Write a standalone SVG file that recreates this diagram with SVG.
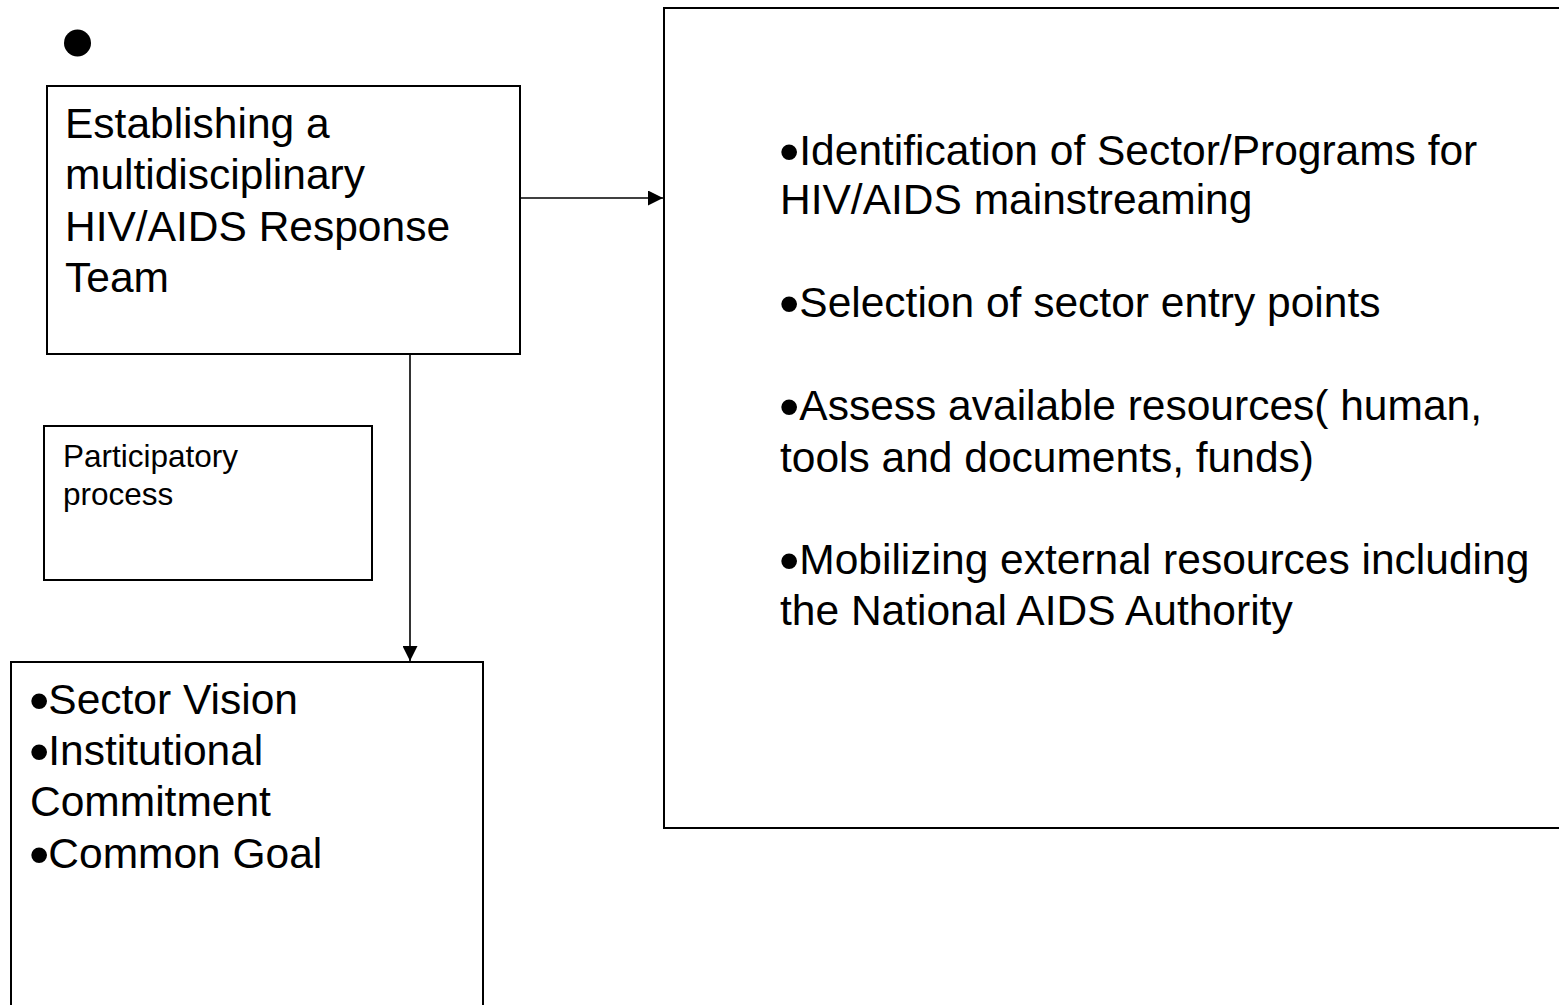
<svg xmlns="http://www.w3.org/2000/svg" width="1559" height="1005" viewBox="0 0 1559 1005">
<defs>
<style>
.box{fill:#fff;stroke:#000;stroke-width:2}
.t{font-family:"Liberation Sans",Arial,sans-serif;fill:#000}
.b{font-size:58px}
.conn{stroke:#000;stroke-width:1.6;fill:none}
</style>
<marker id="ah" viewBox="0 0 10 10" refX="10" refY="5" markerWidth="15" markerHeight="15" markerUnits="userSpaceOnUse" orient="auto">
<path d="M0,0 L10,5 L0,10 Z" fill="#000"/>
</marker>
</defs>
<rect width="1559" height="1005" fill="#fff"/>
<g id="dot"><circle cx="77.5" cy="43" r="13.5" fill="#000"/></g>
<g id="team">
<rect class="box" x="47" y="86" width="473" height="268"/>
<text class="t" font-size="42.5"><tspan x="65" y="138">Establishing a</tspan><tspan x="65" y="189">multidisciplinary</tspan><tspan x="65" y="241">HIV/AIDS Response</tspan><tspan x="65" y="292">Team</tspan></text>
</g>
<g id="participatory">
<rect class="box" x="44" y="426" width="328" height="154"/>
<text class="t" font-size="31.5"><tspan x="63" y="467">Participatory</tspan><tspan x="63" y="505">process</tspan></text>
</g>
<g id="vision">
<rect class="box" x="11" y="662" width="472" height="400"/>
<text class="t" font-size="42.5"><tspan class="b" x="29" y="719.5">•</tspan><tspan dx="-1" y="714">Sector Vision</tspan></text>
<text class="t" font-size="42.5"><tspan class="b" x="29" y="770.5">•</tspan><tspan dx="-1" y="765">Institutional</tspan></text>
<text class="t" font-size="42.5" x="30" y="816">Commitment</text>
<text class="t" font-size="42.5"><tspan class="b" x="29" y="873.5">•</tspan><tspan dx="-1" y="868">Common Goal</tspan></text>
</g>
<g id="actions">
<rect class="box" x="664" y="8" width="1000" height="820"/>
<text class="t" font-size="42.5"><tspan class="b" x="779" y="170.5">•</tspan><tspan dx="0" y="165">Identification of Sector/Programs for</tspan></text>
<text class="t" font-size="42.5" x="780" y="214">HIV/AIDS mainstreaming</text>
<text class="t" font-size="42.5"><tspan class="b" x="779" y="322.5">•</tspan><tspan dx="0" y="317">Selection of sector entry points</tspan></text>
<text class="t" font-size="42.5"><tspan class="b" x="779" y="425.5">•</tspan><tspan dx="0" y="420">Assess available resources( human,</tspan></text>
<text class="t" font-size="42.5" x="780" y="472">tools and documents, funds)</text>
<text class="t" font-size="42.5"><tspan class="b" x="779" y="579.5">•</tspan><tspan dx="0" y="574">Mobilizing external resources including</tspan></text>
<text class="t" font-size="42.5" x="780" y="625">the National AIDS Authority</text>
</g>
<g id="connectors">
<line class="conn" x1="520" y1="198" x2="663" y2="198" marker-end="url(#ah)"/>
<line class="conn" x1="410" y1="354" x2="410" y2="661" marker-end="url(#ah)"/>
</g>
</svg>
